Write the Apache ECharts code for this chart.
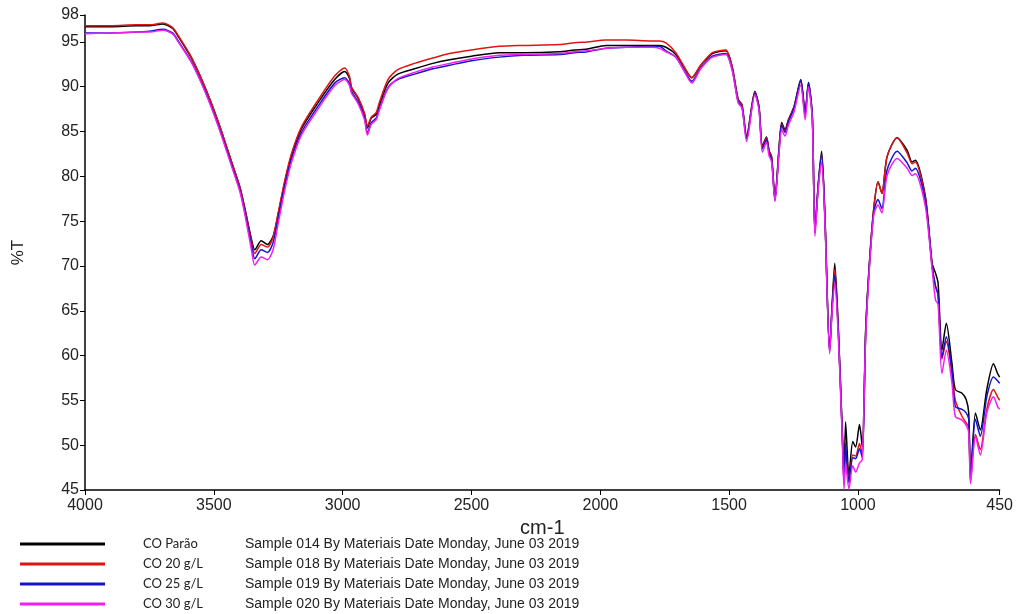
<!DOCTYPE html>
<html>
<head>
<meta charset="utf-8">
<title>FTIR %T</title>
<script src="https://cdn.jsdelivr.net/npm/echarts@6/dist/echarts.min.js"></script>
<style>
  html, body { margin: 0; padding: 0; background: #ffffff; }
  #chart { width: 1016px; height: 614px; }
</style>
</head>
<body>
<div id="chart"></div>
<script>
// Wavenumbers (cm-1), from high to low
const wavenumbers = [
  4000, 3900, 3800, 3750, 3697, 3660, 3638, 3587, 3535, 3483, 3431, 3399, 3380, 3354, 3341, 3316, 3292, 3270,
  3251, 3225, 3199, 3160, 3096, 3031, 2992, 2973, 2966, 2940, 2915, 2904, 2889, 2870, 2857, 2824, 2786, 2721,
  2650, 2585, 2500, 2392, 2300, 2159, 2100, 2050, 1978, 1900, 1800, 1771, 1745, 1707, 1674, 1645, 1610, 1565,
  1513, 1488, 1465, 1450, 1432, 1400, 1384, 1371, 1355, 1345, 1335, 1322, 1306, 1296, 1283, 1270, 1248, 1222,
  1205, 1192, 1177, 1167, 1154, 1141, 1128, 1110, 1100, 1090, 1076, 1061, 1054, 1048, 1035, 1020, 1009, 994,
  983, 970, 954, 938, 922, 907, 887, 848, 809, 790, 777, 738, 712, 699, 689, 674, 657, 635, 622, 596, 580, 570,
  563, 544, 525, 500, 474, 458, 450
];

// Transmittance (%T) of each sample at the wavenumbers above
const coParao = [
  96.7, 96.7, 96.8, 96.8, 97.0, 96.5, 95.6, 93.2, 90.0, 86.1, 81.6, 78.8, 76.5, 73.0, 71.8, 72.8, 72.4, 73.3,
  75.7, 79.3, 82.3, 85.3, 88.2, 90.8, 91.7, 90.9, 89.9, 88.7, 86.9, 85.4, 86.5, 86.9, 88.0, 90.4, 91.4, 92.0,
  92.6, 93.0, 93.4, 93.8, 93.8, 93.9, 94.1, 94.2, 94.6, 94.6, 94.6, 94.6, 94.4, 93.6, 92.1, 91.0, 92.4, 93.7,
  94.0, 92.2, 88.6, 88.0, 84.5, 89.5, 87.8, 83.4, 84.4, 82.9, 82.2, 77.6, 83.3, 86.0, 85.2, 86.3, 87.8, 90.8,
  87.2, 90.5, 86.7, 74.0, 79.2, 82.8, 75.5, 60.6, 65.8, 70.3, 62.9, 51.7, 46.3, 52.6, 46.6, 50.4, 49.8, 52.3,
  49.8, 62.9, 71.0, 76.6, 79.4, 78.1, 82.2, 84.3, 82.9, 81.6, 81.8, 77.7, 70.3, 69.2, 68.1, 60.6, 63.6, 59.1,
  56.2, 55.8, 55.1, 53.6, 46.5, 53.6, 51.7, 56.2, 59.1, 58.0, 57.6
];
const co20 = [
  96.8, 96.8, 96.9, 96.9, 97.1, 96.6, 95.7, 93.3, 90.0, 86.1, 81.6, 78.8, 76.4, 72.8, 71.4, 72.4, 72.1, 73.2,
  75.8, 79.5, 82.5, 85.5, 88.5, 91.2, 92.1, 91.1, 90.0, 88.8, 87.0, 85.6, 86.6, 87.1, 88.3, 90.8, 91.9, 92.6,
  93.2, 93.7, 94.1, 94.5, 94.6, 94.7, 94.9, 95.0, 95.2, 95.2, 95.1, 95.1, 94.9, 93.8, 92.2, 91.0, 92.4, 93.8,
  94.1, 92.2, 88.5, 87.9, 84.4, 89.4, 87.7, 83.3, 84.3, 82.8, 82.1, 77.4, 83.1, 85.8, 85.0, 86.2, 87.7, 90.6,
  86.7, 90.3, 86.5, 73.8, 79.0, 82.4, 75.3, 60.4, 65.6, 69.6, 62.7, 51.4, 45.8, 49.5, 45.9, 48.9, 48.8, 50.2,
  48.9, 62.6, 70.9, 76.5, 79.4, 78.1, 82.2, 84.3, 82.6, 81.4, 81.6, 77.5, 70.0, 67.8, 66.8, 59.6, 61.6, 58.0,
  55.0, 53.2, 52.5, 52.0, 46.0, 51.2, 49.5, 54.0, 56.2, 55.4, 55.0
];
const co25 = [
  96.0, 96.0, 96.1, 96.2, 96.4, 96.0, 95.1, 92.8, 89.6, 85.7, 81.3, 78.5, 76.1, 72.4, 70.8, 71.8, 71.5, 72.6,
  75.2, 78.9, 81.9, 84.9, 87.8, 90.4, 91.0, 90.3, 89.5, 88.3, 86.5, 84.8, 86.0, 86.5, 87.6, 89.9, 90.8, 91.4,
  92.0, 92.4, 92.9, 93.3, 93.5, 93.6, 93.8, 93.9, 94.3, 94.4, 94.5, 94.5, 94.0, 93.3, 91.8, 90.6, 92.1, 93.4,
  93.7, 91.9, 88.3, 87.7, 84.2, 89.3, 87.6, 83.1, 84.1, 82.6, 81.9, 77.3, 83.0, 85.7, 84.9, 86.1, 87.6, 90.7,
  87.0, 90.4, 86.6, 73.7, 79.0, 82.4, 75.2, 60.4, 65.5, 69.0, 62.5, 51.3, 45.6, 50.2, 45.8, 48.6, 48.5, 49.6,
  48.6, 62.5, 70.7, 76.1, 77.4, 76.4, 80.7, 82.8, 81.5, 80.6, 80.9, 77.2, 69.9, 67.7, 66.8, 59.8, 62.1, 58.3,
  54.3, 54.0, 53.6, 52.9, 46.1, 52.9, 51.0, 55.4, 57.6, 57.2, 56.9
];
const co30 = [
  95.9, 96.0, 96.1, 96.1, 96.3, 95.9, 95.0, 92.7, 89.5, 85.6, 81.1, 78.3, 75.8, 71.8, 70.1, 71.0, 70.7, 71.8,
  74.6, 78.4, 81.5, 84.6, 87.5, 90.1, 90.8, 90.1, 89.3, 88.1, 86.3, 84.6, 85.8, 86.3, 87.4, 89.8, 90.9, 91.6,
  92.2, 92.6, 93.1, 93.5, 93.6, 93.7, 93.9, 94.0, 94.3, 94.4, 94.4, 94.3, 93.9, 93.3, 91.7, 90.4, 92.0, 93.3,
  93.6, 91.8, 88.2, 87.6, 83.9, 89.1, 87.4, 82.7, 83.8, 82.3, 81.6, 77.2, 82.6, 85.2, 84.5, 85.7, 87.2, 90.2,
  86.3, 90.0, 86.2, 73.3, 78.6, 81.6, 74.8, 60.2, 65.0, 68.1, 62.0, 50.9, 45.1, 48.0, 45.1, 47.7, 47.0, 48.0,
  48.4, 62.0, 70.4, 75.8, 76.8, 75.9, 80.1, 82.0, 80.9, 80.1, 80.3, 76.6, 69.6, 66.2, 65.7, 58.0, 60.6, 56.9,
  53.2, 52.8, 52.2, 51.4, 45.7, 51.0, 48.9, 53.6, 55.4, 54.3, 54.0
];

// Sample names, colours and their record lines
const sampleNames = ['CO Parão', 'CO 20 g/L', 'CO 25 g/L', 'CO 30 g/L'];
const sampleRecords = [
  'Sample 014 By Materiais Date Monday, June 03 2019',
  'Sample 018 By Materiais Date Monday, June 03 2019',
  'Sample 019 By Materiais Date Monday, June 03 2019',
  'Sample 020 By Materiais Date Monday, June 03 2019'
];
const sampleColors = ['#000000', '#e01414', '#1414c8', '#f020f0'];
const sampleValues = [coParao, co20, co25, co30];

// Tick labels
const xTicks = [4000, 3500, 3000, 2500, 2000, 1500, 1000, 450];
const yTicks = [45, 50, 55, 60, 65, 70, 75, 80, 85, 90, 95, 98];

const chart = echarts.init(document.getElementById('chart'), null, { renderer: 'canvas' });

const recordOf = {};
sampleNames.forEach((n, i) => { recordOf[n] = sampleRecords[i]; });

const series = sampleNames.map((name, i) => ({
  name: name,
  type: 'line',
  data: wavenumbers.map((w, k) => [w, sampleValues[i][k]]),
  showSymbol: false,
  smooth: 0.25,
  clip: true,
  lineStyle: { color: sampleColors[i], width: 1.5 },
  itemStyle: { color: sampleColors[i] },
  emphasis: { disabled: true },
  z: 2 + i
}));

const axisFont = 'Liberation Sans, Arial, sans-serif';

chart.setOption({
  animation: false,
  backgroundColor: '#ffffff',
  grid: { left: 85, right: 15, top: 15, bottom: 124, containLabel: false },
  xAxis: {
    type: 'value',
    min: 450,
    max: 4000,
    inverse: true,
    name: 'cm-1',
    nameLocation: 'middle',
    nameGap: 18,
    nameTextStyle: { fontFamily: axisFont, fontSize: 20, color: '#222' },
    axisLine: { onZero: false, lineStyle: { color: '#000', width: 1.5 } },
    axisTick: { show: true, length: 5, customValues: xTicks, lineStyle: { color: '#000', width: 1 } },
    axisLabel: {
      customValues: xTicks,
      formatter: function (v) { return String(v); },
      margin: 8,
      fontFamily: axisFont,
      fontSize: 16,
      color: '#222'
    },
    splitLine: { show: false }
  },
  yAxis: {
    type: 'value',
    min: 45,
    max: 98,
    name: '%T',
    nameLocation: 'middle',
    nameGap: 58,
    nameTextStyle: { fontFamily: axisFont, fontSize: 17, color: '#222' },
    axisLine: { onZero: false, lineStyle: { color: '#000', width: 1.5 } },
    axisTick: { show: true, length: 5, customValues: yTicks, lineStyle: { color: '#000', width: 1 } },
    axisLabel: {
      customValues: yTicks,
      formatter: function (v) { return String(v); },
      margin: 6,
      fontFamily: axisFont,
      fontSize: 16,
      color: '#222'
    },
    splitLine: { show: false }
  },
  legend: {
    orient: 'vertical',
    left: 20,
    top: 537,
    padding: 0,
    itemWidth: 85,
    itemHeight: 3,
    itemGap: 6,
    icon: 'rect',
    selectedMode: false,
    data: sampleNames,
    formatter: function (name) {
      return '{n|' + name + '}{s|' + recordOf[name] + '}';
    },
    textStyle: {
      color: '#222',
      rich: {
        n: { fontFamily: 'Lato, Open Sans, sans-serif', fontSize: 13, width: 102, padding: [0, 0, 0, 33], lineHeight: 14, color: '#222' },
        s: { fontFamily: axisFont, fontSize: 14, lineHeight: 14, color: '#222' }
      }
    }
  },
  series: series
});
</script>
</body>
</html>
